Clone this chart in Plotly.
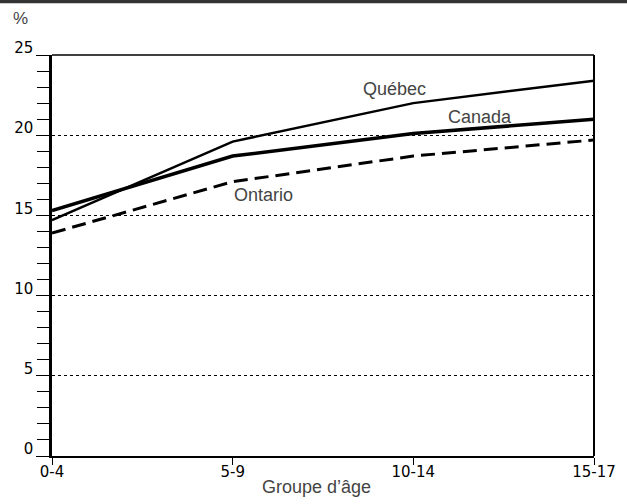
import plotly.graph_objects as go

categories = ["0-4", "5-9", "10-14", "15-17"]
canada = [15.3, 18.7, 20.1, 21.0]
quebec = [14.7, 19.6, 22.0, 23.4]
ontario = [13.9, 17.1, 18.7, 19.7]
y_ticks = [0, 5, 10, 15, 20, 25]

xi = list(range(len(categories)))

fig = go.Figure()
fig.add_trace(go.Scatter(x=xi, y=quebec, mode="lines", line=dict(color="black", width=2.5), name="Québec"))
fig.add_trace(go.Scatter(x=xi, y=canada, mode="lines", line=dict(color="black", width=3.5), name="Canada"))
fig.add_trace(go.Scatter(x=xi, y=ontario, mode="lines", line=dict(color="black", width=3, dash="14px,7px"), name="Ontario"))

font_tick = dict(family="DejaVu Sans, sans-serif", size=15, color="black")
lab_font = dict(family="Liberation Sans, Arial, sans-serif", size=18, color="#444444")

fig.update_layout(
    width=627, height=504,
    margin=dict(l=52, r=33, t=55, b=48),
    paper_bgcolor="white", plot_bgcolor="white",
    showlegend=False,
    xaxis=dict(
        range=[0, 3], tickmode="array", tickvals=xi, ticktext=categories,
        showgrid=False, showline=True, linecolor="black", linewidth=2,
        ticks="outside", ticklen=7, tickcolor="black", tickwidth=1,
        tickfont=font_tick, zeroline=False, mirror=False, automargin=False,
        ticklabelstandoff=-6,
    ),
    yaxis=dict(
        range=[0, 25], tickmode="array", tickvals=y_ticks,
        showgrid=True, gridcolor="black", griddash="dot", gridwidth=1,
        showline=True, linecolor="black", linewidth=2.5,
        ticks="outside", ticklen=13, tickcolor="black", tickwidth=1,
        tickfont=font_tick, zeroline=False, ticklabelshift=-7, automargin=False,
        minor=dict(dtick=1, ticks="outside", ticklen=12, tickcolor="black", tickwidth=1, showgrid=False),
    ),
)

# frame top and right
fig.add_shape(type="line", xref="paper", yref="paper", x0=0, x1=1, y0=1, y1=1, line=dict(color="black", width=1.5))
fig.add_shape(type="line", xref="paper", yref="paper", x0=1, x1=1, y0=0, y1=1, line=dict(color="black", width=2))
# top dark band
fig.add_shape(type="line", xref="paper", yref="paper", x0=-52/542, x1=1 + 33/542, y0=(456 - 1.5) / 401, y1=(456 - 1.5) / 401,
              line=dict(color="#333333", width=3.5))

fig.add_annotation(x=1.898, y=22.88, text="Québec", showarrow=False, font=lab_font)
fig.add_annotation(x=2.369, y=21.13, text="Canada", showarrow=False, font=lab_font)
fig.add_annotation(x=1.168, y=16.27, text="Ontario", showarrow=False, font=lab_font)
fig.add_annotation(xref="paper", yref="paper", x=-32/542, y=(456 - 18) / 401, text="%", showarrow=False,
                   xanchor="center", yanchor="middle",
                   font=dict(family="Liberation Sans, Arial, sans-serif", size=17, color="#444444"))
fig.add_annotation(xref="paper", yref="paper", x=(316 - 52) / 542, y=(456 - 487) / 401, text="Groupe d’âge", showarrow=False,
                   xanchor="center", yanchor="middle", font=lab_font)

fig.write_html("out.html", config={"displayModeBar": False},
               post_script="document.body.style.margin='0';document.body.style.overflow='hidden';")
